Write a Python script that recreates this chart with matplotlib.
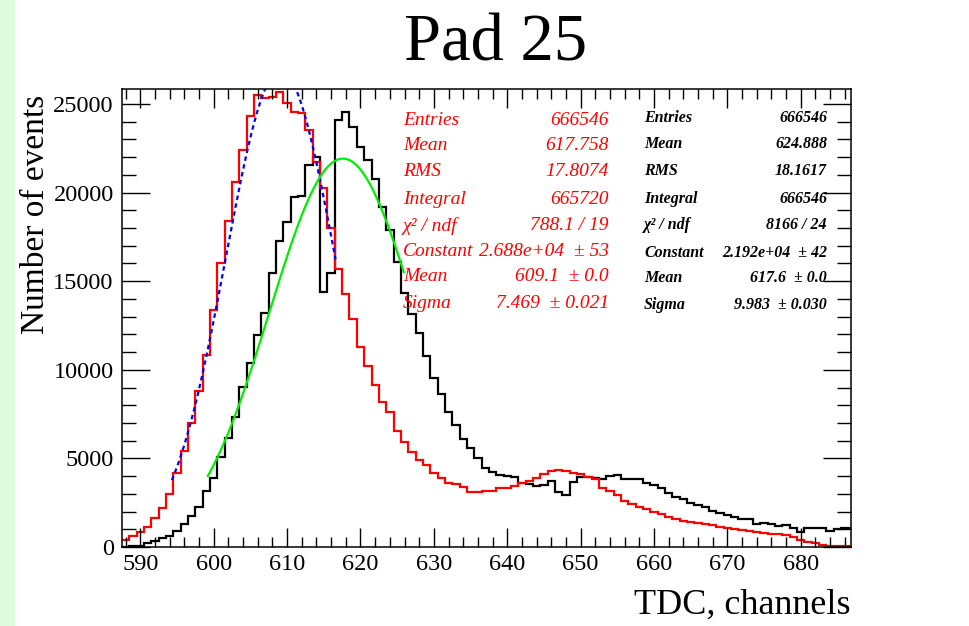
import numpy as np
import matplotlib
matplotlib.use("Agg")
import matplotlib.pyplot as plt

plt.rcParams['font.family'] = ['Liberation Serif', 'DejaVu Serif']

# bins 588 .. 687 (width 1 channel)
channels = list(range(588, 688))

red_counts = [395, 620, 830, 1150, 1620, 2220, 2990, 4160, 5420, 7020,
              8820, 10830, 13370, 16010, 18400, 20620, 22400, 24320, 25500, 25320,
              25410, 25650, 25080, 24570, 24470, 23530, 21740, 20240, 18000, 15700,
              14250, 12880, 11300, 10210, 9140, 8200, 7640, 6550, 5940, 5380,
              4910, 4630, 4160, 3880, 3630, 3540, 3400, 3120, 3120, 3180,
              3180, 3310, 3310, 3440, 3590, 3740, 3880, 4100, 4310, 4345,
              4290, 4190, 4100, 3970, 3820, 3350, 3160, 2935, 2610, 2430,
              2275, 2130, 1990, 1845, 1710, 1560, 1470, 1390, 1340, 1280,
              1220, 1150, 1090, 1000, 960, 900, 850, 810, 750, 715,
              660, 580, 395, 265, 210, 113, 55, 55, 55, 55]

black_counts = [20, 40, 80, 200, 360, 490, 620, 920, 1300, 1750,
                2240, 3160, 3910, 5060, 6170, 7350, 9050, 10400, 11960, 13230,
                15440, 17290, 18360, 19730, 19810, 21560, 22030, 14410, 15460, 24080,
                24570, 23720, 22590, 21840, 20750, 19200, 17890, 16100, 14350, 13170,
                12090, 10780, 9550, 8620, 7640, 6880, 6080, 5570, 5010, 4440,
                4250, 4080, 4000, 3970, 3590, 3550, 3440, 3500, 3740, 3120,
                2930, 3690, 3970, 3970, 3880, 3820, 4020, 4080, 3820, 3820,
                3820, 3630, 3500, 3310, 3030, 2840, 2690, 2500, 2370, 2270,
                2050, 1900, 1810, 1710, 1580, 1570, 1300, 1340, 1280, 1200,
                1240, 1090, 865, 1090, 1050, 1090, 920, 1000, 1050, 1050]

# fit parameters (constant, mean, sigma) and fit ranges
red_fit = [26880, 609.1, 7.469]
red_fit_range = [594.3, 616.6]
black_fit = [21920, 617.6, 9.983]
black_fit_range = [599.2, 625.9]

red_stats = [("Entries", "666546"), ("Mean", "617.758"), ("RMS", "17.8074"),
             ("Integral", "665720"), ("χ² / ndf", "788.1 / 19"),
             ("Constant", "2.688e+04  ± 53"), ("Mean", "609.1  ± 0.0"),
             ("Sigma", "7.469  ± 0.021")]
black_stats = [("Entries", "666546"), ("Mean", "624.888"), ("RMS", "18.1617"),
               ("Integral", "666546"), ("χ² / ndf", "8166 / 24"),
               ("Constant", "2.192e+04  ± 42"), ("Mean", "617.6  ± 0.0"),
               ("Sigma", "9.983  ± 0.030")]

W, H = 969, 626
fig = plt.figure(figsize=(W / 100, H / 100), dpi=100)
fig.patch.set_facecolor('white')
# light green strip on the left
fig.patches.append(plt.Rectangle((0, 0), 14 / W, 1, transform=fig.transFigure,
                                 color='#dcfcdc', zorder=0))

ax = fig.add_axes([122 / W, (H - 547) / H, (850.7 - 122) / W, (547 - 89.3) / H])

edges = np.arange(587.5, 688.5, 1.0)
ax.stairs(black_counts, edges, color='black', lw=1.6, baseline=None)
ax.stairs(red_counts, edges, color='red', lw=1.6, baseline=None)

def gaus(p, x):
    return p[0] * np.exp(-0.5 * ((x - p[1]) / p[2]) ** 2)

xr = np.linspace(red_fit_range[0], red_fit_range[1], 300)
ax.plot(xr, gaus(red_fit, xr), color='blue', lw=1.6, ls=(0, (2.0, 1.6)))
xb = np.linspace(black_fit_range[0], black_fit_range[1], 300)
ax.plot(xb, gaus(black_fit, xb), color='#00ee00', lw=1.6)

ax.set_xlim(587.5, 686.8)
ax.set_ylim(0, 25830)
ax.set_xticks(range(590, 681, 10))
ax.set_xticks(range(588, 687, 2), minor=True)
ax.set_yticks(range(0, 25001, 5000))
ax.set_yticks(range(0, 25001, 1000), minor=True)
ax.tick_params(which='both', direction='in', top=True, right=True,
               labelsize=17.5, width=1)
ax.tick_params(which='major', axis='x', length=14, pad=5)
ax.tick_params(which='minor', axis='x', length=7)
ax.tick_params(which='major', axis='y', length=20, pad=6)
ax.tick_params(which='minor', axis='y', length=10)
for s in ax.spines.values():
    s.set_linewidth(1.1)

# stats boxes
row_y = [120, 145.7, 171, 199, 226, 251.7, 276.7, 303.3]
for (lab, val), y in zip(red_stats, row_y):
    fig.text(403 / W, 1 - y / H, lab, color='red', style='italic', fontsize=14,
             ha='left', va='center')
    fig.text(609 / W, 1 - y / H, val, color='red', style='italic', fontsize=14,
             ha='right', va='center')
row_y2 = [118.3, 144.3, 170.7, 199, 225, 252.7, 278.3, 305]
for (lab, val), y in zip(black_stats, row_y2):
    fig.text(644 / W, 1 - y / H, lab, color='black', style='italic',
             weight='bold', fontsize=11.5, ha='left', va='center')
    fig.text(827 / W, 1 - y / H, val, color='black', style='italic',
             weight='bold', fontsize=11.5, ha='right', va='center')

fig.text(496 / W, 1 - 44 / H, "Pad 25", fontsize=48, ha='center', va='center')
fig.text(850.7 / W, 1 - 605 / H, "TDC, channels", fontsize=26, ha='right',
         va='center')
fig.text(36 / W, 1 - 214 / H, "Number of events", fontsize=24, rotation=90,
         ha='center', va='center')

fig.savefig("out.png", dpi=100)
